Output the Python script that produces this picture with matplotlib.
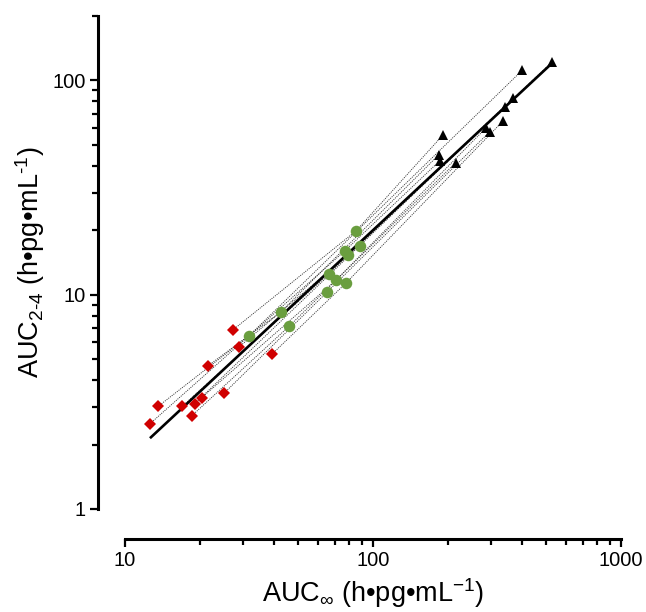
import numpy as np
import matplotlib
matplotlib.use("Agg")
import matplotlib.pyplot as plt
from matplotlib.ticker import FixedLocator, NullFormatter, FixedFormatter

plt.rcParams['font.family'] = ['Liberation Sans', 'DejaVu Sans']
plt.rcParams['mathtext.fontset'] = 'custom'
plt.rcParams['mathtext.rm'] = 'Liberation Sans'
plt.rcParams['mathtext.it'] = 'Liberation Sans'
plt.rcParams['mathtext.bf'] = 'Liberation Sans:bold'

# Each index is one subject, measured at the low, mid and high dose
auc_inf_low = [27.19, 13.59, 21.67, 12.61, 28.83, 17.02, 19.10, 20.39, 18.63, 25.15, 39.15]
auc_24_low = [6.84, 3.01, 4.67, 2.50, 5.71, 3.02, 3.10, 3.31, 2.73, 3.48, 5.28]

auc_inf_mid = [85.62, 31.70, 42.56, 77.11, 79.51, 66.47, 88.37, 70.73, 45.97, 65.06, 78.04]
auc_24_mid = [19.91, 6.45, 8.33, 16.06, 15.33, 12.54, 16.94, 11.66, 7.14, 10.25, 11.38]

auc_inf_high = [192.1, 400.0, 184.6, 186.3, 367.9, 525.6, 340.5, 285.5, 215.6, 296.3, 333.4]
auc_24_high = [55.9, 111.7, 45.1, 42.3, 83.0, 121.8, 75.4, 60.1, 41.4, 57.8, 64.5]

x_ticks = [10, 100, 1000]
x_tick_labels = ["10", "100", "1000"]
y_ticks = [1, 10, 100]
y_tick_labels = ["1", "10", "100"]

fig = plt.figure(figsize=(6.46, 6.12), dpi=100)
ax = fig.add_axes([125 / 646, 1 - 509 / 612, 496 / 646, 493 / 612])

# dotted connectors within each subject
for i in range(len(auc_inf_low)):
    ax.plot([auc_inf_low[i], auc_inf_mid[i], auc_inf_high[i]],
            [auc_24_low[i], auc_24_mid[i], auc_24_high[i]],
            color='#333333', lw=0.65, ls=(0, (1.2, 1.2)), zorder=1)

# log-log regression over all points
all_x = np.array(auc_inf_low + auc_inf_mid + auc_inf_high)
all_y = np.array(auc_24_low + auc_24_mid + auc_24_high)
slope, intercept = np.polyfit(np.log10(all_x), np.log10(all_y), 1)
xf = np.geomspace(all_x.min(), all_x.max(), 100)
ax.plot(xf, 10 ** (intercept + slope * np.log10(xf)), color='black', lw=1.9, zorder=2,
        solid_capstyle='butt')

ax.plot(auc_inf_low, auc_24_low, ls='none', marker='D', ms=6.0, mew=0,
        color='#d00000', zorder=3)
ax.plot(auc_inf_mid, auc_24_mid, ls='none', marker='o', ms=8.3, mew=0,
        color='#6a9e3f', zorder=3)
ax.plot(auc_inf_high, auc_24_high, ls='none', marker='^', ms=7.5, mew=0,
        color='black', zorder=3)

ax.set_xscale('log')
ax.set_yscale('log')
ax.set_xlim(10, 1000)
ax.set_ylim(1, 200)

for s in ('top', 'right'):
    ax.spines[s].set_visible(False)
ax.spines['left'].set_position(('outward', 27 * 0.72))
ax.spines['bottom'].set_position(('outward', 30 * 0.72))
ax.spines['left'].set_bounds(1, 200)
ax.spines['bottom'].set_bounds(10, 1000)
for s in ('left', 'bottom'):
    ax.spines[s].set_linewidth(2.2)
    ax.spines[s].set_capstyle('projecting')

ax.xaxis.set_major_locator(FixedLocator(x_ticks))
ax.xaxis.set_major_formatter(FixedFormatter(x_tick_labels))
ax.xaxis.set_minor_locator(FixedLocator([m * 10 ** k for k in (1, 2) for m in range(2, 10)]))
ax.xaxis.set_minor_formatter(NullFormatter())
ax.yaxis.set_major_locator(FixedLocator(y_ticks))
ax.yaxis.set_major_formatter(FixedFormatter(y_tick_labels))
ax.yaxis.set_minor_locator(FixedLocator([m * 10 ** k for k in (0, 1) for m in range(2, 10)] + [200]))
ax.yaxis.set_minor_formatter(NullFormatter())

ax.tick_params(which='major', direction='out', length=6.0, width=1.6, labelsize=14.5, pad=3)
ax.tick_params(which='minor', direction='out', length=4.0, width=1.6)

ax.set_xlabel(r'AUC$_{\infty}$ (h•pg•mL$^{-1}$)', fontsize=19.5, labelpad=4)
ax.set_ylabel(r'AUC$_{\text{2-4}}$ (h•pg•mL$^{\text{-1}}$)', fontsize=19.5, labelpad=4)

fig.savefig('out.png', dpi=100)
